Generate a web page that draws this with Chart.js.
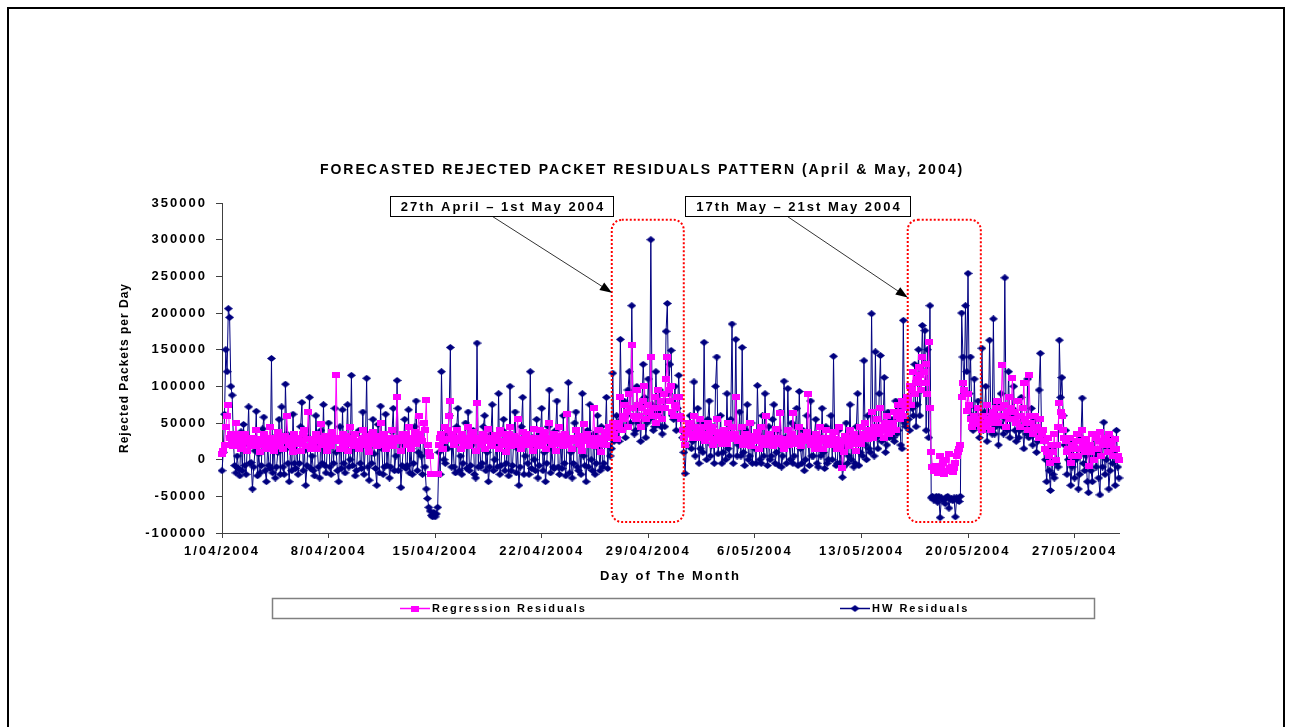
<!DOCTYPE html>
<html>
<head>
<meta charset="utf-8">
<title>Forecasted Rejected Packet Residuals</title>
<script src="https://cdn.jsdelivr.net/npm/chart.js@4.4.1/dist/chart.umd.min.js"></script>
<style>
  html, body { margin: 0; padding: 0; background: #fff; }
  canvas { display: block; }
</style>
</head>
<body>
<canvas id="residualsChart" width="1291" height="727"></canvas>
<script>
// 2-hourly readings, 1 April – 29 May 2004 (one row per day)
const pointsPerDay = 12;
const xTickLabels = ["1/04/2004", "8/04/2004", "15/04/2004", "22/04/2004", "29/04/2004",
  "6/05/2004", "13/05/2004", "20/05/2004", "27/05/2004"];
const yTicks = { min: -100000, max: 350000, step: 50000 };

const chartTitle = "FORECASTED REJECTED PACKET RESIDUALS PATTERN (April & May, 2004)";
const xTitle = "Day of The Month";
const yTitle = "Rejected Packets per Day";
const seriesNames = ["Regression Residuals", "HW Residuals"];

const regressionResiduals = [
  8000, 12000, 20000, 45000, 60000, 75000, 30000, 35000, 25000, 18000, 28000, 50000,
  22000, 35000, 30000, 15000, 20000, 28000, 35000, 25000, 12000, 25000, 30000, 20000,
  30000, 25000, 18000, 40000, 28000, 22000, 10000, 20000, 28000, 35000, 22000, 15000,
  25000, 30000, 45000, 20000, 25000, 12000, 30000, 22000, 38000, 18000, 32000, 27000,
  15000, 25000, 32000, 60000, 30000, 20000, 28000, 18000, 10000, 35000, 25000, 22000,
  30000, 22000, 12000, 25000, 35000, 40000, 18000, 28000, 65000, 28000, 15000, 20000,
  22000, 28000, 35000, 15000, 25000, 30000, 48000, 22000, 20000, 26000, 32000, 12000,
  28000, 22000, 18000, 38000, 30000, 25000, 116000, 25000, 30000, 15000, 28000, 35000,
  20000, 32000, 30000, 12000, 22000, 45000, 25000, 30000, 18000, 35000, 20000, 22000,
  15000, 25000, 28000, 40000, 30000, 20000, 32000, 18000, 10000, 25000, 35000, 38000,
  30000, 22000, 18000, 25000, 32000, 50000, 20000, 28000, 35000, 15000, 25000, 28000,
  22000, 30000, 40000, 18000, 25000, 30000, 85000, 30000, 25000, 12000, 28000, 35000,
  28000, 35000, 20000, 45000, 25000, 15000, 30000, 22000, 38000, 22000, 30000, 60000,
  35000, 28000, 25000, 50000, 40000, 81000, 20000, 10000, 5000, -19000, -19000, -19000,
  -19000, -19000, -19000, 20000, 30000, 35000, 15000, 25000, 45000, 28000, 40000, 60000,
  80000, 35000, 30000, 20000, 28000, 40000, 25000, 30000, 15000, 35000, 25000, 22000,
  30000, 22000, 45000, 18000, 32000, 28000, 38000, 25000, 12000, 77000, 30000, 25000,
  20000, 28000, 35000, 15000, 25000, 30000, 42000, 30000, 22000, 18000, 25000, 33000,
  28000, 32000, 15000, 40000, 25000, 20000, 35000, 22000, 10000, 30000, 35000, 45000,
  18000, 25000, 32000, 25000, 30000, 55000, 20000, 28000, 15000, 38000, 22000, 25000,
  35000, 28000, 20000, 30000, 25000, 12000, 42000, 22000, 28000, 18000, 30000, 40000,
  22000, 30000, 38000, 15000, 25000, 30000, 50000, 28000, 20000, 28000, 35000, 12000,
  30000, 22000, 45000, 25000, 32000, 18000, 35000, 28000, 62000, 20000, 25000, 30000,
  15000, 25000, 28000, 40000, 30000, 22000, 32000, 20000, 12000, 48000, 30000, 25000,
  35000, 28000, 20000, 30000, 25000, 70000, 18000, 30000, 28000, 40000, 22000, 10000,
  25000, 30000, 38000, 20000, 35000, 45000, 30000, 40000, 50000, 35000, 45000, 28000,
  50000, 45000, 85000, 40000, 55000, 60000, 75000, 65000, 45000, 90000, 70000, 157000,
  70000, 60000, 55000, 95000, 75000, 60000, 45000, 70000, 80000, 100000, 55000, 65000,
  75000, 65000, 140000, 60000, 70000, 85000, 50000, 60000, 95000, 70000, 80000, 55000,
  90000, 70000, 110000, 140000, 95000, 80000, 100000, 65000, 60000, 75000, 70000, 85000,
  85000, 60000, 55000, 40000, 30000, 20000, 35000, 40000, 50000, 45000, 35000, 30000,
  60000, 45000, 40000, 30000, 38000, 55000, 35000, 30000, 45000, 25000, 35000, 50000,
  30000, 38000, 45000, 20000, 28000, 38000, 55000, 30000, 25000, 35000, 22000, 28000,
  40000, 30000, 22000, 50000, 35000, 30000, 45000, 28000, 35000, 85000, 30000, 25000,
  30000, 25000, 45000, 20000, 30000, 35000, 28000, 22000, 50000, 18000, 28000, 32000,
  25000, 30000, 38000, 15000, 25000, 45000, 30000, 22000, 20000, 60000, 30000, 28000,
  35000, 25000, 18000, 30000, 28000, 42000, 22000, 30000, 63000, 25000, 20000, 15000,
  28000, 22000, 40000, 20000, 30000, 35000, 63000, 25000, 22000, 30000, 28000, 45000,
  18000, 25000, 32000, 25000, 30000, 38000, 90000, 28000, 20000, 30000, 22000, 15000,
  35000, 28000, 22000, 45000, 25000, 28000, 15000, 30000, 40000, 25000, 20000, 30000,
  20000, 30000, 38000, 28000, 22000, 15000, 45000, 18000, 25000, -12000, 10000, 32000,
  30000, 25000, 18000, 40000, 28000, 25000, 35000, 22000, 12000, 28000, 30000, 45000,
  22000, 30000, 35000, 50000, 32000, 28000, 40000, 35000, 65000, 30000, 38000, 45000,
  55000, 40000, 35000, 70000, 45000, 40000, 30000, 50000, 60000, 45000, 35000, 38000,
  50000, 45000, 65000, 40000, 60000, 75000, 55000, 65000, 80000, 60000, 75000, 70000,
  85000, 80000, 100000, 75000, 95000, 120000, 90000, 105000, 110000, 126000, 115000, 95000,
  140000, 120000, 105000, 130000, 90000, 160000, 71000, 10000, -10000, -15000, -8000, -15000,
  -18000, -10000, 5000, -12000, -5000, -19000, 0, -16000, -15000, 8000, -12000, -10000,
  -17000, -12000, -5000, 5000, 10000, 15000, 20000, 85000, 104000, 95000, 90000, 67000,
  90000, 75000, 55000, 44000, 50000, 60000, 48000, 55000, 70000, 52000, 45000, 40000,
  60000, 50000, 45000, 75000, 55000, 50000, 40000, 60000, 65000, 55000, 70000, 80000,
  50000, 60000, 70000, 129000, 75000, 60000, 45000, 65000, 85000, 55000, 70000, 111000,
  65000, 55000, 50000, 80000, 60000, 45000, 60000, 70000, 104000, 55000, 50000, 40000,
  115000, 60000, 50000, 35000, 45000, 60000, 45000, 40000, 30000, 55000, 35000, 40000,
  25000, 15000, 10000, 30000, 5000, -5000, 20000, 10000, 35000, 0, 20000, 45000,
  77000, 65000, 60000, 40000, 30000, 25000, 10000, 15000, 30000, -5000, 5000, 20000,
  15000, 25000, 35000, 5000, 15000, 25000, 40000, 20000, 10000, 28000, 15000, -8000,
  20000, 10000, 35000, 0, 15000, 30000, 15000, 25000, 38000, 5000, 20000, 25000,
  30000, 20000, 10000, 35000, 25000, 20000, 5000, 15000, 28000, 15000, 5000, 0
];

const hwResiduals = [
  -15000, 10000, 62000, 150000, 120000, 206000, 194000, 100000, 88000, 25000, -8000, -18000,
  5000, -12000, -22000, 38000, -15000, 48000, -8000, -20000, 22000, 72000, -5000, -4000,
  -40000, -10000, 12000, 66000, -22000, 8000, -18000, -8000, 42000, 58000, -15000, -30000,
  20000, -8000, -12000, 138000, -18000, 30000, -25000, -10000, 10000, 55000, -20000, 72000,
  -10000, -20000, 103000, 35000, -5000, -30000, 15000, -15000, 62000, -5000, -12000, 25000,
  -20000, -5000, 45000, 78000, -15000, 12000, -35000, -8000, 30000, 85000, -12000, 5000,
  -15000, -22000, 60000, 20000, -10000, -25000, 40000, -5000, 75000, -8000, -18000, 15000,
  50000, -10000, -20000, 30000, -5000, 70000, 10000, -15000, -30000, 45000, -12000, 68000,
  -5000, -18000, 25000, 75000, -10000, 0, 115000, -8000, 35000, -22000, -15000, 18000,
  40000, -5000, -12000, 65000, -20000, 20000, 111000, -10000, -28000, 30000, -5000, 55000,
  8000, -12000, -35000, 48000, -18000, 73000, 15000, -20000, -10000, 62000, -8000, 25000,
  -25000, -10000, 38000, 70000, -15000, 5000, 108000, -15000, 30000, -38000, -8000, 20000,
  55000, -12000, -8000, 68000, -18000, 15000, -20000, -5000, 45000, 80000, -15000, 10000,
  30000, 5000, -20000, 50000, -10000, -40000, -53000, -65000, -70000, -76000, -78000, -72000,
  -78000, -74000, -65000, 10000, -20000, 120000, 20000, 0, -5000, 35000, 15000, 60000,
  153000, -10000, 25000, -10000, -18000, 45000, 70000, -15000, 5000, -20000, -5000, 30000,
  50000, -12000, 65000, -15000, -8000, 20000, 40000, -20000, -25000, 159000, -10000, 30000,
  -10000, -5000, 45000, 60000, -15000, 10000, -30000, -10000, 35000, 75000, -15000, 0,
  20000, -10000, 90000, -20000, -8000, 40000, 55000, -15000, -5000, 25000, -22000, 100000,
  -15000, -8000, 30000, 65000, -18000, 15000, -35000, -10000, 45000, 85000, -20000, 5000,
  25000, -5000, -20000, 120000, -12000, 30000, 0, -15000, 55000, -25000, -8000, 35000,
  70000, -15000, 10000, -30000, -5000, 45000, 95000, -18000, 15000, -10000, -12000, 40000,
  80000, -10000, -20000, 25000, -12000, 60000, -5000, -22000, 30000, 105000, -18000, 10000,
  -25000, -5000, 50000, 65000, -10000, -15000, 20000, -20000, 90000, 5000, -8000, -30000,
  40000, -10000, 75000, 0, -15000, 35000, -20000, -5000, 60000, 15000, -15000, 45000,
  -10000, -5000, 30000, 85000, -12000, 20000, 5000, 15000, 118000, 25000, 40000, 60000,
  40000, 25000, 164000, 55000, 45000, 80000, 30000, 60000, 95000, 120000, 50000, 210000,
  70000, 35000, 40000, 100000, 50000, 60000, 25000, 75000, 130000, 85000, 30000, 50000,
  110000, 55000, 300000, 75000, 40000, 45000, 120000, 65000, 60000, 95000, 45000, 35000,
  80000, 45000, 175000, 213000, 90000, 130000, 149000, 60000, 55000, 100000, 40000, 70000,
  115000, 60000, 40000, 30000, 10000, -19000, 20000, 35000, 45000, 60000, 15000, 25000,
  106000, 5000, 35000, 70000, -5000, 15000, 50000, 10000, 160000, 30000, 0, 55000,
  80000, 5000, 20000, 45000, -5000, 100000, 140000, 8000, 25000, 60000, -5000, 10000,
  40000, 0, 90000, 15000, 5000, 55000, 185000, -5000, 30000, 164000, 5000, 20000,
  65000, 5000, 153000, 10000, -8000, 40000, 75000, 0, 5000, 50000, -5000, 30000,
  15000, -5000, 101000, 35000, 0, -5000, 60000, 5000, 90000, 20000, -8000, 45000,
  0, 5000, 55000, 75000, -5000, 10000, 40000, -8000, 65000, -10000, 5000, 107000,
  30000, -5000, 97000, 20000, 0, 50000, -5000, 5000, 45000, 70000, -8000, 93000,
  15000, -5000, 40000, -15000, 0, 60000, 25000, -8000, 80000, 5000, 5000, 35000,
  55000, -5000, -10000, 30000, 5000, 70000, 10000, -12000, 45000, -5000, 0, 25000,
  60000, 0, 141000, 20000, -8000, -5000, 40000, -5000, 15000, -24000, -10000, 30000,
  50000, -5000, 5000, 75000, 0, 25000, -10000, -5000, 45000, 90000, -8000, 10000,
  35000, 5000, 135000, 20000, 0, 60000, 15000, 10000, 199000, 40000, 5000, 147000,
  30000, 15000, 90000, 142000, 25000, 45000, 112000, 10000, 20000, 65000, 30000, 35000,
  55000, 30000, 25000, 80000, 35000, 40000, 70000, 20000, 15000, 190000, 50000, 45000,
  85000, 55000, 40000, 100000, 70000, 60000, 130000, 45000, 75000, 150000, 60000, 95000,
  183000, 120000, 176000, 40000, 150000, 30000, 210000, -52000, -50000, -55000, -53000, -50000,
  -58000, -50000, -79000, -52000, -55000, -55000, -60000, -51000, -50000, -66000, -54000, -53000,
  -56000, -52000, -78000, -52000, -55000, -57000, -50000, 200000, 140000, 90000, 210000, 120000,
  254000, 90000, 140000, 60000, 40000, 110000, 45000, 70000, 80000, 30000, 55000, 152000,
  40000, 65000, 100000, 25000, 50000, 163000, 60000, 35000, 192000, 35000, 45000, 75000,
  20000, 50000, 90000, 45000, 35000, 248000, 55000, 40000, 120000, 30000, 60000, 70000,
  100000, 40000, 25000, 60000, 30000, 40000, 85000, 45000, 15000, 50000, 35000, 110000,
  30000, 45000, 70000, 20000, 35000, 55000, 10000, 25000, 95000, 145000, 30000, 40000,
  25000, 0, -30000, 5000, -15000, -42000, 15000, -20000, -25000, 20000, -5000, -10000,
  163000, 85000, 112000, 60000, 20000, 40000, -20000, 0, 10000, -35000, -10000, 25000,
  -25000, 0, 15000, -40000, -20000, 30000, 84000, -5000, -15000, 5000, -30000, -45000,
  20000, -15000, -30000, 35000, 5000, -10000, 10000, -25000, -48000, 25000, -10000, 51000,
  -20000, 0, 15000, -40000, -15000, 30000, -5000, 10000, -35000, 40000, -10000, -25000
];

// highlighted periods: x in days from 1 April, y in packets
const callouts = [
  { text: "27th April \u2013 1st May 2004", box: [11.03, 25.67, 360000, 332700],
    arrow: [17.79, 331300, 25.61, 227700], span: [25.6, 30.33], range: [-85000, 327000] },
  { text: "17th May \u2013 21st May 2004", box: [30.40, 45.17, 360000, 332700],
    arrow: [37.16, 331300, 45.04, 221000], span: [45.04, 49.84], range: [-85000, 327000] }
];

if (hwResiduals.length !== regressionResiduals.length) {
  throw new Error("series length mismatch " + hwResiduals.length + " vs " + regressionResiduals.length);
}

const FONT = "'Liberation Sans', Arial, sans-serif";
const NAVY = "#000080";
const MAGENTA = "#ff00ff";

function makeMarker(shape, w, h, color) {
  const c = document.createElement("canvas");
  c.width = w;
  c.height = h;
  const g = c.getContext("2d");
  g.fillStyle = color;
  if (shape === "diamond") {
    g.beginPath();
    g.moveTo(w / 2, 0);
    g.lineTo(w, h / 2);
    g.lineTo(w / 2, h);
    g.lineTo(0, h / 2);
    g.closePath();
    g.fill();
  } else {
    g.fillRect(0, 0, w, h);
  }
  return c;
}

const squareMarker = makeMarker("square", 8, 6, MAGENTA);
const diamondMarker = makeMarker("diamond", 9, 7, NAVY);

const toPoints = (values) => values.map((v, i) => ({ x: i / pointsPerDay, y: v }));

const overlay = {
  id: "overlay",
  beforeDraw(chart) {
    chart.ctx.letterSpacing = "2px";
  },
  afterDraw(chart) {
    const { ctx, scales: { x, y } } = chart;
    const px = (v) => x.getPixelForValue(v);
    const py = (v) => y.getPixelForValue(v);
    ctx.save();
    ctx.fillStyle = "#000";
    ctx.textBaseline = "middle";

    // outer frame
    ctx.strokeStyle = "#000";
    ctx.lineWidth = 2;
    ctx.strokeRect(8, 8, 1276, 740);

    // title
    ctx.font = "bold 14px " + FONT;
    ctx.letterSpacing = "2px";
    ctx.textAlign = "center";
    ctx.fillText(chartTitle, 642, 170);

    // y axis title
    ctx.save();
    ctx.translate(125, (y.top + y.bottom) / 2);
    ctx.rotate(-Math.PI / 2);
    ctx.font = "bold 12px " + FONT;
    ctx.letterSpacing = "1px";
    ctx.fillText(yTitle, 0, 0);
    ctx.restore();

    callouts.forEach((c) => {
      // dotted rounded frame round the period
      const rx0 = px(c.span[0]), rx1 = px(c.span[1]);
      const ry0 = py(c.range[1]), ry1 = py(c.range[0]);
      ctx.strokeStyle = "#ff0000";
      ctx.lineWidth = 2;
      ctx.setLineDash([2, 2]);
      ctx.beginPath();
      ctx.roundRect(rx0, ry0, rx1 - rx0, ry1 - ry0, 10);
      ctx.stroke();
      ctx.setLineDash([]);

      // arrow
      const ax0 = px(c.arrow[0]), ay0 = py(c.arrow[1]);
      const ax1 = px(c.arrow[2]), ay1 = py(c.arrow[3]);
      const ang = Math.atan2(ay1 - ay0, ax1 - ax0);
      ctx.strokeStyle = "#333";
      ctx.lineWidth = 1;
      ctx.beginPath();
      ctx.moveTo(ax0, ay0);
      ctx.lineTo(ax1 - 8 * Math.cos(ang), ay1 - 8 * Math.sin(ang));
      ctx.stroke();
      ctx.fillStyle = "#000";
      ctx.beginPath();
      ctx.moveTo(ax1, ay1);
      ctx.lineTo(ax1 - 12 * Math.cos(ang) + 4.5 * Math.sin(ang), ay1 - 12 * Math.sin(ang) - 4.5 * Math.cos(ang));
      ctx.lineTo(ax1 - 12 * Math.cos(ang) - 4.5 * Math.sin(ang), ay1 - 12 * Math.sin(ang) + 4.5 * Math.cos(ang));
      ctx.closePath();
      ctx.fill();

      // label box
      const bx0 = Math.round(px(c.box[0])) + 0.5, bx1 = Math.round(px(c.box[1])) + 0.5;
      const by0 = Math.round(py(c.box[2])) + 0.5, by1 = Math.round(py(c.box[3])) + 0.5;
      ctx.fillStyle = "#fff";
      ctx.fillRect(bx0, by0, bx1 - bx0, by1 - by0);
      ctx.strokeStyle = "#000";
      ctx.lineWidth = 1;
      ctx.strokeRect(bx0, by0, bx1 - bx0, by1 - by0);
      ctx.fillStyle = "#000";
      ctx.font = "bold 13px " + FONT;
      ctx.letterSpacing = "2px";
      ctx.textAlign = "center";
      ctx.fillText(c.text, (bx0 + bx1) / 2 + 1, (by0 + by1) / 2 + 1);
    });

    // legend
    ctx.strokeStyle = "#808080";
    ctx.lineWidth = 1.5;
    ctx.strokeRect(272.5, 598.5, 822, 20);
    const legendItems = [
      { name: seriesNames[0], color: MAGENTA, marker: squareMarker, cx: 415 },
      { name: seriesNames[1], color: NAVY, marker: diamondMarker, cx: 855 }
    ];
    ctx.font = "bold 11px " + FONT;
    ctx.letterSpacing = "2px";
    ctx.textAlign = "left";
    legendItems.forEach((it) => {
      ctx.strokeStyle = it.color;
      ctx.lineWidth = 1.5;
      ctx.beginPath();
      ctx.moveTo(it.cx - 15, 608.5);
      ctx.lineTo(it.cx + 15, 608.5);
      ctx.stroke();
      ctx.drawImage(it.marker, it.cx - it.marker.width / 2, 608.5 - it.marker.height / 2);
      ctx.fillStyle = "#000";
      ctx.fillText(it.name, it.cx + 17, 609);
    });
    ctx.restore();
  }
};

new Chart(document.getElementById("residualsChart"), {
  type: "line",
  data: {
    datasets: [
      {
        label: seriesNames[0],
        data: toPoints(regressionResiduals),
        borderColor: MAGENTA,
        backgroundColor: MAGENTA,
        borderWidth: 1,
        pointStyle: squareMarker,
        pointRadius: 4,
        clip: false
      },
      {
        label: seriesNames[1],
        data: toPoints(hwResiduals),
        borderColor: NAVY,
        backgroundColor: NAVY,
        borderWidth: 1,
        pointStyle: diamondMarker,
        pointRadius: 4,
        clip: false
      }
    ]
  },
  options: {
    responsive: false,
    devicePixelRatio: 1,
    animation: false,
    layout: { padding: { top: 203, left: 110, right: 172, bottom: 132 } },
    elements: { line: { tension: 0 } },
    plugins: {
      legend: { display: false },
      title: { display: false },
      tooltip: { enabled: false }
    },
    scales: {
      x: {
        type: "linear",
        min: 0,
        max: (hwResiduals.length - 1) / pointsPerDay,
        afterFit: (s) => { s.height = 62; },
        grid: { display: true, drawOnChartArea: false, drawTicks: true, tickLength: 5, color: "#404040" },
        border: { display: true, color: "#404040", width: 1 },
        ticks: {
          stepSize: 7,
          includeBounds: false,
          autoSkip: false,
          maxRotation: 0,
          padding: 6,
          color: "#000",
          font: { family: FONT, size: 13, weight: "bold" },
          callback: (v) => xTickLabels[Math.round(v / 7)] || ""
        },
        title: {
          display: true,
          text: xTitle,
          color: "#000",
          padding: { top: 0, bottom: 11 },
          font: { family: FONT, size: 13, weight: "bold" }
        }
      },
      y: {
        min: yTicks.min,
        max: yTicks.max,
        afterFit: (s) => { s.width = 112; },
        grid: { display: true, drawOnChartArea: false, drawTicks: true, tickLength: 6, color: "#404040" },
        border: { display: true, color: "#404040", width: 1 },
        ticks: {
          stepSize: yTicks.step,
          padding: 9,
          color: "#000",
          font: { family: FONT, size: 13, weight: "bold" },
          callback: (v) => String(v)
        },
        title: { display: false }
      }
    }
  },
  plugins: [overlay]
});
</script>
</body>
</html>
